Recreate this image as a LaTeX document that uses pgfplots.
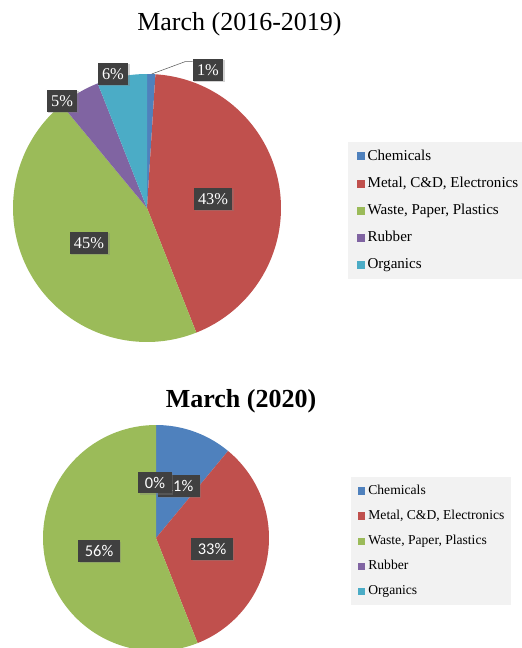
\documentclass[border=0pt]{standalone}
\usepackage{pgfplots}
\pgfplotsset{compat=1.18}
\usepackage{fontspec}
\setmainfont{Liberation Serif}
\newfontfamily\lblsans{Carlito}
\usetikzlibrary{shadows}
\definecolor{cChem}{HTML}{4F81BD}
\definecolor{cMetal}{HTML}{C0504D}
\definecolor{cWaste}{HTML}{9BBB59}
\definecolor{cRubber}{HTML}{8064A2}
\definecolor{cOrg}{HTML}{4BACC6}
\definecolor{lblgray}{HTML}{404040}
\definecolor{leggray}{HTML}{F2F2F2}
% #1 = cumulative percent before the slice, #2 = slice percent, #3 = colour
\newcommand{\slice}[3]{%
  \pgfmathsetmacro\aS{90-3.6*(#1)}%
  \pgfmathsetmacro\aE{90-3.6*((#1)+(#2))}%
  \edef\doslice{\noexpand\addplot[draw=none, fill=#3, domain=\aE:\aS, samples=90]
    ({cos(x)},{sin(x)}) -- (axis cs:0,0) -- cycle;}%
  \doslice}
\tikzset{
  lbl/.style={fill=lblgray, text=white, inner xsep=3.3pt, inner ysep=0pt,
    minimum height=16.5pt, font=\fontsize{12.3}{12.3}\selectfont,
    drop shadow={shadow xshift=1pt, shadow yshift=-1pt, opacity=0.35}},
  lbls/.style={lbl, inner xsep=5pt, minimum height=16pt, font=\lblsans\fontsize{12.3}{12.3}\selectfont},
}
\pgfplotsset{
  piestyle/.style={
    hide axis, clip=false, scale only axis,
    xmin=-1, xmax=1, ymin=-1, ymax=1,
    anchor=center,
    legend cell align=left,
    legend image code/.code={\fill[##1] (0pt,-3pt) rectangle (6pt,3pt);},
    legend style={draw=none, fill=leggray, anchor=north west,
      /tikz/every odd column/.append style={column sep=2.3pt}},
  },
}
\begin{document}
\begin{tikzpicture}
\useasboundingbox (0pt,0pt) rectangle (390.75pt,-486pt);
% titles
\node[anchor=base, font=\fontsize{19.5}{19.5}\selectfont] at (179.6pt,-22.9pt) {March (2016-2019)};
\node[anchor=base, font=\bfseries\fontsize{19.5}{19.5}\selectfont] at (180.75pt,-305.25pt) {March (2020)};

% ---- Pie 1 : March (2016-2019)
\begin{axis}[piestyle, at={(110.25pt,-156pt)}, width=201pt, height=201pt,
  legend style={at={(1.25,0.746)}, inner xsep=6.2pt, inner ysep=5.3pt,
    row sep=9.8pt,
    nodes={inner sep=0pt, text height=8pt, text depth=2.6pt},
    font=\fontsize{11.3}{11.3}\selectfont}]
\slice{0}{1}{cChem}   \addlegendentry{Chemicals}
\slice{1}{43}{cMetal} \addlegendentry{Metal, C\&D, Electronics}
\slice{44}{45}{cWaste}\addlegendentry{Waste, Paper, Plastics}
\slice{89}{5}{cRubber}\addlegendentry{Rubber}
\slice{94}{6}{cOrg}   \addlegendentry{Organics}
\draw[gray!70!black, thin] (axis cs:0.035,1.0) -- (axis cs:0.284,1.092) -- (axis cs:0.341,1.092);
\node[lbl] at (axis cs:0.455,1.03) {1\%};
\node[lbl] at (axis cs:0.493,0.067) {43\%};
\node[lbl] at (axis cs:-0.433,-0.261) {45\%};
\node[lbl] at (axis cs:-0.634,0.799) {5\%};
\node[lbl] at (axis cs:-0.254,1.0) {6\%};
\end{axis}

% ---- Pie 2 : March (2020)
\begin{axis}[piestyle, at={(117pt,-403.5pt)}, width=169.5pt, height=169.5pt,
  legend style={at={(1.363,0.770)}, inner xsep=4.8pt, inner ysep=5.3pt,
    row sep=8.8pt,
    nodes={inner sep=0pt, text height=7.5pt, text depth=2.5pt},
    font=\fontsize{10.2}{10.2}\selectfont},
  legend image code/.code={\fill[#1] (0pt,-2.7pt) rectangle (5.7pt,2.7pt);}]
\slice{0}{11}{cChem}   \addlegendentry{Chemicals}
\slice{11}{33}{cMetal} \addlegendentry{Metal, C\&D, Electronics}
\slice{44}{56}{cWaste} \addlegendentry{Waste, Paper, Plastics}
\addlegendimage{draw=none, fill=cRubber} \addlegendentry{Rubber}
\addlegendimage{draw=none, fill=cOrg}    \addlegendentry{Organics}
\node[lbls] at (axis cs:0.204,0.460) {11\%};
\node[lbls] at (axis cs:0.496,-0.097) {33\%};
\node[lbls] at (axis cs:-0.504,-0.115) {56\%};
\node[lbls] at (axis cs:-0.009,0.49) {0\%};
\end{axis}
\end{tikzpicture}
\end{document}
